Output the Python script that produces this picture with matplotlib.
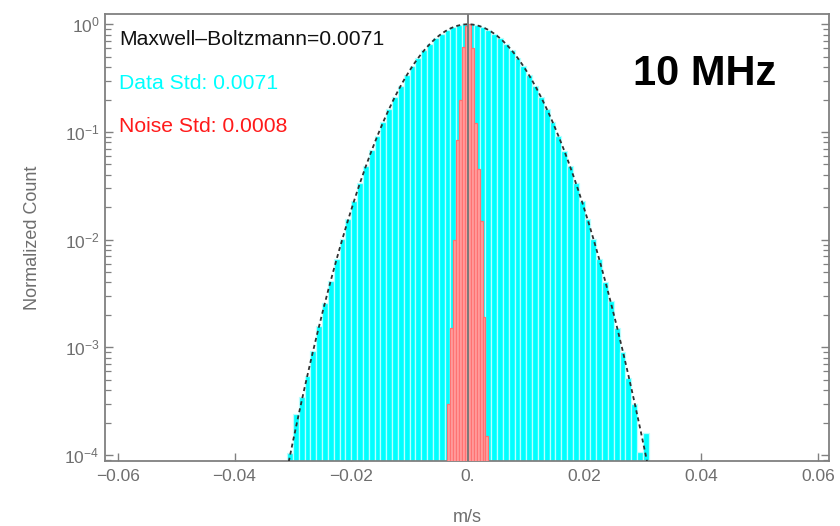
import numpy as np
import matplotlib
matplotlib.use("Agg")
import matplotlib.pyplot as plt
from matplotlib.ticker import FixedLocator, LogLocator, NullFormatter

plt.rcParams['font.family'] = ['Liberation Sans', 'DejaVu Sans']
plt.rcParams['mathtext.fontset'] = 'custom'
plt.rcParams['mathtext.rm'] = 'Liberation Sans'
plt.rcParams['mathtext.it'] = 'Liberation Sans:italic'
plt.rcParams['mathtext.bf'] = 'Liberation Sans:bold'

# Measured velocity histogram (normalized), bins of 1 mm/s from -0.031 to 0.031
data_bin_start = -0.031
data_bin_width = 0.001
data_counts = [
    1.05e-4, 2.40e-4, 3.47e-4, 5.37e-4, 9.33e-4, 1.58e-3, 2.57e-3, 4.17e-3,
    6.61e-3, 1.02e-2, 1.55e-2, 2.29e-2, 3.39e-2, 4.79e-2, 6.76e-2, 9.23e-2,
    0.124, 0.164, 0.212, 0.269, 0.335, 0.409, 0.489, 0.571, 0.658, 0.741,
    0.818, 0.885, 0.940, 0.977, 0.998,
    0.997, 0.978, 0.940, 0.886, 0.818, 0.741, 0.658, 0.572, 0.488, 0.409,
    0.335, 0.269, 0.212, 0.164, 0.124, 0.0923, 0.0672, 0.0479, 0.0336, 0.0230,
    0.0155, 0.0102, 0.0066, 0.0040, 0.0027, 0.0015, 0.00090, 0.00052,
    0.00030, 0.000107, 0.000160,
]

# Noise-floor histogram (normalized), bins of 0.5 mm/s
noise_bin_start = -0.0035
noise_bin_width = 0.0005
noise_counts = [
    3.0e-4, 1.5e-3, 1.0e-2, 0.085, 0.20, 0.62, 0.97,
    1.0, 0.60, 0.12, 0.045, 0.015, 1.9e-3, 1.5e-4,
]

# Maxwell-Boltzmann fit width (m/s)
mb_sigma = 0.0071
data_std_text = "Data Std: 0.0071"
noise_std_text = "Noise Std: 0.0008"
mb_text = "Maxwell\u2013Boltzmann=0.0071"
freq_text = "10 MHz"

x_ticks = [-0.06, -0.04, -0.02, 0.0, 0.02, 0.04, 0.06]
x_tick_labels = ["\u22120.06", "\u22120.04", "\u22120.02", "0.", "0.02", "0.04", "0.06"]
y_ticks = [1e-4, 1e-3, 1e-2, 1e-1, 1e0]
y_tick_labels = [r"$10^{-4}$", r"$10^{-3}$", r"$10^{-2}$", r"$10^{-1}$", r"$10^{0}$"]

grey = '#808080'
label_grey = '#6e6e6e'

fig = plt.figure(figsize=(8.4, 5.26), dpi=100)
ax = fig.add_axes([0.125, 0.1236, 0.862, 0.8494])

floor = 1e-6
d_edges = data_bin_start + data_bin_width * np.arange(len(data_counts))
ax.bar(d_edges, np.array(data_counts) - floor, width=data_bin_width, bottom=floor,
       align='edge', color='#00ffff', edgecolor='#b8ffff', linewidth=0.9, zorder=2)

n_edges = noise_bin_start + noise_bin_width * np.arange(len(noise_counts))
ax.bar(n_edges, np.array(noise_counts) - floor, width=noise_bin_width, bottom=floor,
       align='edge', color='#ffa0a0', edgecolor='#ff7272', linewidth=0.9, zorder=3)

xc = np.linspace(-0.0312, 0.0312, 600)
ax.plot(xc, np.exp(-xc**2 / (2 * mb_sigma**2)), color='#303030', lw=1.3,
        linestyle=(0, (2.2, 1.8)), zorder=4)

ax.axvline(0.0, color='#7a7a7a', lw=1.4, zorder=5)

ax.set_yscale('log')
ax.set_xlim(-0.0622, 0.0619)
ax.set_ylim(8.8e-5, 1.24)

ax.xaxis.set_major_locator(FixedLocator(x_ticks))
ax.set_xticklabels(x_tick_labels)
ax.yaxis.set_major_locator(FixedLocator(y_ticks))
ax.set_yticklabels(y_tick_labels)
ax.yaxis.set_minor_locator(LogLocator(base=10, subs=np.arange(2, 10) * 1.0, numticks=20))
ax.yaxis.set_minor_formatter(NullFormatter())

ax.tick_params(axis='both', which='both', direction='in', color=grey,
               labelcolor=label_grey, labelsize=12.5)
ax.tick_params(axis='x', which='major', length=6, width=1.0, top=False, pad=6)
ax.tick_params(axis='y', which='major', length=6, width=1.0, right=True, pad=4)
ax.tick_params(axis='y', which='minor', length=4, width=0.9, right=True)
ax.tick_params(axis='x', which='minor', bottom=False, top=False)

for s in ax.spines.values():
    s.set_color(grey)
    s.set_linewidth(1.3)

ax.set_xlabel("m/s", color=label_grey, fontsize=13, labelpad=18)
ax.set_ylabel("Normalized Count", color=label_grey, fontsize=13, labelpad=17)

ax.text(0.019, 0.931, mb_text, transform=ax.transAxes, fontsize=15.2,
        color='#111111', va='baseline', ha='left', zorder=6)
ax.text(0.019, 0.832, data_std_text, transform=ax.transAxes, fontsize=15.2,
        color='#00ffff', va='baseline', ha='left', zorder=6)
ax.text(0.019, 0.736, noise_std_text, transform=ax.transAxes, fontsize=15.2,
        color='#ff1a1a', va='baseline', ha='left', zorder=6)
ax.text(0.729, 0.841, freq_text, transform=ax.transAxes, fontsize=30,
        fontweight='bold', color='black', va='baseline', ha='left', zorder=6)

fig.savefig("out.png", dpi=100)
